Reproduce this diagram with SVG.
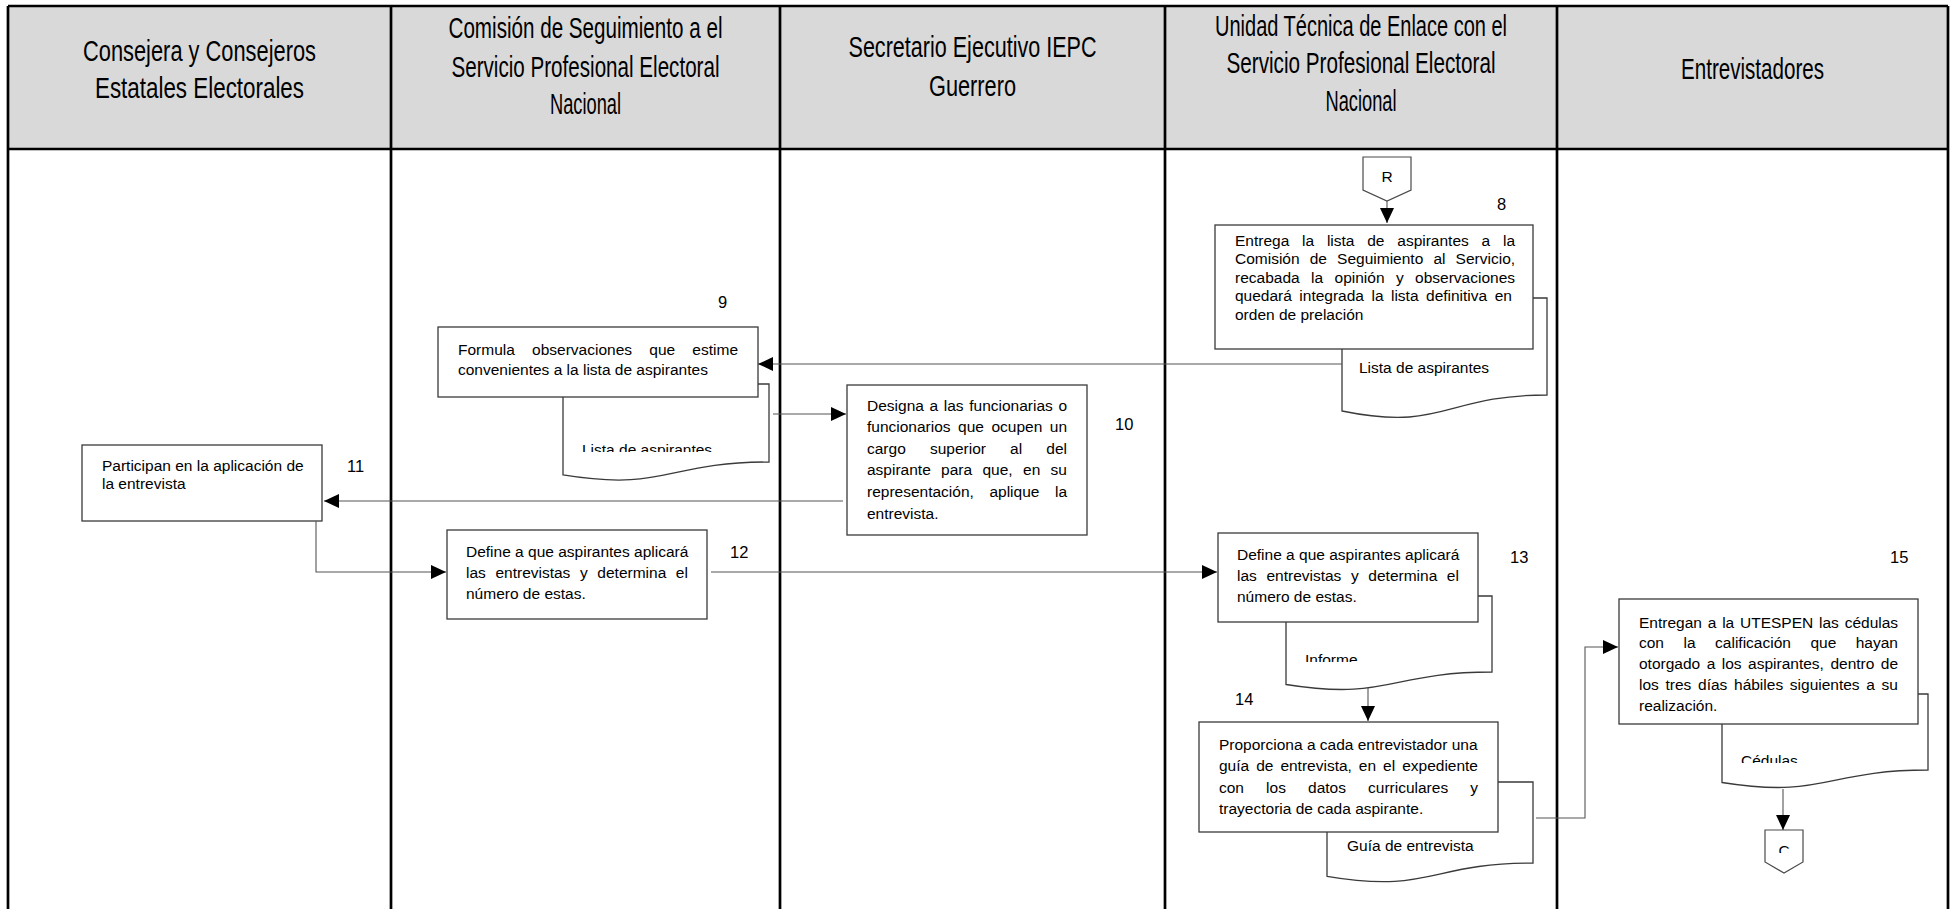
<svg xmlns="http://www.w3.org/2000/svg" width="1951" height="909" viewBox="0 0 1951 909">
<defs>
<style>
.lane{stroke:#000;stroke-width:2.7;fill:none}
.hdr{fill:#d9d9d9}
.h{font-family:"Liberation Sans Narrow","Liberation Sans",Arial,sans-serif;font-size:30px;fill:#000;text-anchor:middle}
.t{font-family:"Liberation Sans",Arial,sans-serif;font-size:15.5px;fill:#000;font-kerning:none}
.n{font-family:"Liberation Sans",Arial,sans-serif;font-size:16.5px;fill:#000}
.box{fill:#fff;stroke:#3a3a3a;stroke-width:1.3}
.doc{fill:#fff;stroke:#3a3a3a;stroke-width:1.3}
.off{fill:#fff;stroke:#4a4a4a;stroke-width:1.2}
.c{fill:none;stroke:#555;stroke-width:1.1}
</style>
<marker id="arr" viewBox="0 0 15 14" refX="15" refY="7" markerWidth="15" markerHeight="14" markerUnits="userSpaceOnUse" orient="auto">
<path d="M0,0 L15,7 L0,14 z" fill="#000"/>
</marker>
<clipPath id="clip9"><rect x="560" y="380" width="210" height="72"/></clipPath>
<clipPath id="clip13"><rect x="1283" y="590" width="212" height="72"/></clipPath>
<clipPath id="clip15"><rect x="1719" y="690" width="212" height="73"/></clipPath>
<clipPath id="clipC"><rect x="1760" y="828" width="50" height="25"/></clipPath>
</defs>

<g id="lanes">
<rect class="hdr" x="8" y="6" width="1940" height="143"/>
<path class="lane" d="M8,6 H1948 M8,149 H1948 M8,6 V909 M391,6 V909 M780,6 V909 M1165,6 V909 M1557,6 V909 M1948,6 V909"/>
<g id="lane-headers">
<text class="h" x="199.5" y="60.5" textLength="233" lengthAdjust="spacingAndGlyphs">Consejera y Consejeros</text>
<text class="h" x="199.5" y="98" textLength="209" lengthAdjust="spacingAndGlyphs">Estatales Electorales</text>
<text class="h" x="585.5" y="38" textLength="274" lengthAdjust="spacingAndGlyphs">Comisión de Seguimiento a el</text>
<text class="h" x="585.5" y="76.5" textLength="268" lengthAdjust="spacingAndGlyphs">Servicio Profesional Electoral</text>
<text class="h" x="585.5" y="114" textLength="71" lengthAdjust="spacingAndGlyphs">Nacional</text>
<text class="h" x="972.5" y="56.5" textLength="248" lengthAdjust="spacingAndGlyphs">Secretario Ejecutivo IEPC</text>
<text class="h" x="972.5" y="95.5" textLength="87" lengthAdjust="spacingAndGlyphs">Guerrero</text>
<text class="h" x="1361" y="35.5" textLength="292" lengthAdjust="spacingAndGlyphs">Unidad Técnica de Enlace con el</text>
<text class="h" x="1361" y="73" textLength="269" lengthAdjust="spacingAndGlyphs">Servicio Profesional Electoral</text>
<text class="h" x="1361" y="110.5" textLength="71" lengthAdjust="spacingAndGlyphs">Nacional</text>
<text class="h" x="1752.5" y="79" textLength="143" lengthAdjust="spacingAndGlyphs">Entrevistadores</text>
</g>
</g>

<g id="node-R">
<path class="off" d="M1363,157 H1411 V190 L1387,201 L1363,190 Z"/>
<text class="t" x="1387" y="182" text-anchor="middle">R</text>
</g>

<g id="node-8">
<path class="doc" d="M1342,298 H1547 V395 C1444.5,395 1444.5,431.9 1342,411 Z"/>
<text class="t" x="1359" y="372.5">Lista de aspirantes</text>
<rect class="box" x="1215" y="225" width="318" height="124"/>
<text class="t" x="1235" y="245.5" word-spacing="8.47">Entrega la lista de aspirantes a la</text>
<text class="t" x="1235" y="264" word-spacing="5.83">Comisión de Seguimiento al Servicio,</text>
<text class="t" x="1235" y="282.5" word-spacing="7.1">recabada la opinión y observaciones</text>
<text class="t" x="1235" y="301" word-spacing="3.16">quedará integrada la lista definitiva en</text>
<text class="t" x="1235" y="319.5">orden de prelación</text>
<text class="n" x="1497" y="210">8</text>
</g>

<g id="node-9">
<path class="doc" d="M563,384 H769 V462 C666,462 666,491.7 563,474.9 Z"/>
<text class="t" x="582" y="455" clip-path="url(#clip9)">Lista de aspirantes</text>
<rect class="box" x="438" y="327" width="320" height="70"/>
<text class="t" x="458" y="354.5" word-spacing="12.93">Formula observaciones que estime</text>
<text class="t" x="458" y="374.5">convenientes a la lista de aspirantes</text>
<text class="n" x="718" y="308">9</text>
</g>

<g id="node-10">
<rect class="box" x="847" y="385" width="240" height="150"/>
<text class="t" x="867" y="410.5" word-spacing="1.33">Designa a las funcionarias o</text>
<text class="t" x="867" y="432.1" word-spacing="3.2">funcionarios que ocupen un</text>
<text class="t" x="867" y="453.7" word-spacing="19.87">cargo superior al del</text>
<text class="t" x="867" y="475.3" word-spacing="6.05">aspirante para que, en su</text>
<text class="t" x="867" y="496.9" word-spacing="11.25">representación, aplique la</text>
<text class="t" x="867" y="518.5">entrevista.</text>
<text class="n" x="1115" y="430">10</text>
</g>

<g id="node-11">
<rect class="box" x="82" y="445" width="240" height="76"/>
<text class="t" x="102" y="470.5">Participan en la aplicación de</text>
<text class="t" x="102" y="489">la entrevista</text>
<text class="n" x="347" y="472">11</text>
</g>

<g id="node-12">
<rect class="box" x="447" y="530" width="260" height="89"/>
<text class="t" x="466" y="557">Define a que aspirantes aplicará</text>
<text class="t" x="466" y="578" word-spacing="5.3">las entrevistas y determina el</text>
<text class="t" x="466" y="599">número de estas.</text>
<text class="n" x="730" y="558">12</text>
</g>

<g id="node-13">
<path class="doc" d="M1286,596 H1492 V672 C1389,672 1389,700.9 1286,684.5 Z"/>
<text class="t" x="1305" y="665" clip-path="url(#clip13)">Informe</text>
<rect class="box" x="1218" y="533" width="260" height="89"/>
<text class="t" x="1237" y="560">Define a que aspirantes aplicará</text>
<text class="t" x="1237" y="581" word-spacing="5.3">las entrevistas y determina el</text>
<text class="t" x="1237" y="602">número de estas.</text>
<text class="n" x="1510" y="563">13</text>
</g>

<g id="node-14">
<path class="doc" d="M1327,782 H1533 V863 C1430,863 1430,893.8 1327,876.3 Z"/>
<text class="t" x="1347" y="850.5">Guía de entrevista</text>
<rect class="box" x="1199" y="722" width="299" height="110"/>
<text class="t" x="1219" y="750">Proporciona a cada entrevistador una</text>
<text class="t" x="1219" y="771.3" word-spacing="2.68">guía de entrevista, en el expediente</text>
<text class="t" x="1219" y="792.6" word-spacing="17.8">con los datos curriculares y</text>
<text class="t" x="1219" y="814">trayectoria de cada aspirante.</text>
<text class="n" x="1235" y="705">14</text>
</g>

<g id="node-15">
<path class="doc" d="M1722,694 H1928 V770 C1825,770 1825,798.9 1722,782.5 Z"/>
<text class="t" x="1741" y="766" clip-path="url(#clip15)">Cédulas</text>
<rect class="box" x="1619" y="599" width="299" height="125"/>
<text class="t" x="1639" y="627.5" word-spacing="1.5">Entregan a la UTESPEN las cédulas</text>
<text class="t" x="1639" y="648.3" word-spacing="15.2">con la calificación que hayan</text>
<text class="t" x="1639" y="669" word-spacing="2.18">otorgado a los aspirantes, dentro de</text>
<text class="t" x="1639" y="690" word-spacing="2.38">los tres días hábiles siguientes a su</text>
<text class="t" x="1639" y="710.5">realización.</text>
<text class="n" x="1890" y="563">15</text>
</g>

<g id="node-C">
<path class="off" d="M1765,830 H1803 V862 L1784,873 L1765,862 Z"/>
<text class="t" x="1784" y="856" text-anchor="middle" clip-path="url(#clipC)">C</text>
</g>

<g id="connectors">
<path class="c" d="M1387,201 V223" marker-end="url(#arr)"/>
<path class="c" d="M1342,364 H758" marker-end="url(#arr)"/>
<path class="c" d="M773,414 H846" marker-end="url(#arr)"/>
<path class="c" d="M843,501 H324" marker-end="url(#arr)"/>
<path class="c" d="M316,521 V572 H446" marker-end="url(#arr)"/>
<path class="c" d="M711,572 H1217" marker-end="url(#arr)"/>
<path class="c" d="M1368,688 V721" marker-end="url(#arr)"/>
<path class="c" d="M1536,818 H1585 V647 H1618" marker-end="url(#arr)"/>
<path class="c" d="M1783,789 V830" marker-end="url(#arr)"/>
</g>
</svg>
